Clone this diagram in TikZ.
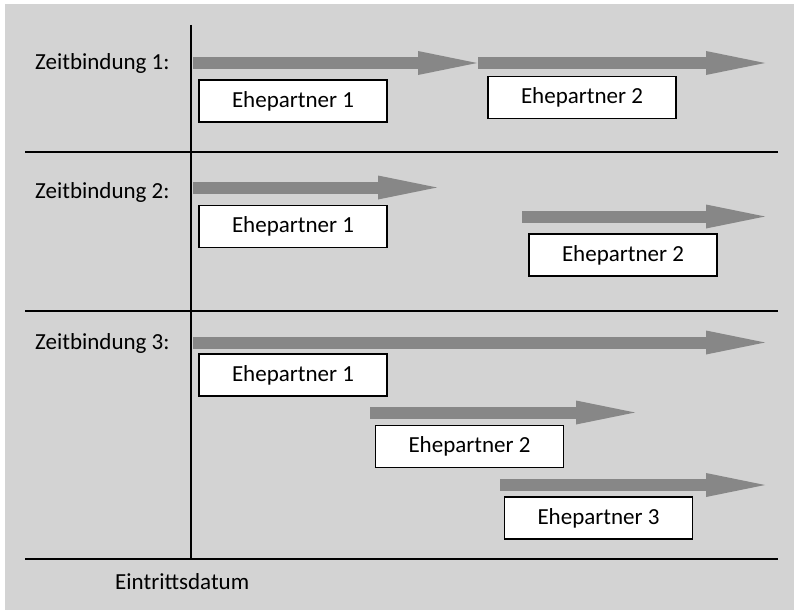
\documentclass[tikz,border=0pt]{standalone}
\usepackage{fontspec}
\setmainfont{Carlito}
\usepackage{tikz}
\usetikzlibrary{arrows.meta}
\usetikzlibrary{positioning}
\definecolor{bggray}{HTML}{D3D3D3}
\definecolor{arrowgray}{HTML}{878787}
\tikzset{%
  timearrow/.style={-{Triangle[length=59pt, width=24pt, line width=0pt]}, line width=12pt, draw=arrowgray},
  partnerbox/.style={draw=black, line width=1.3pt, fill=white, minimum width=188pt, minimum height=42pt, inner sep=0pt, font=\fontsize{23}{27}\selectfont},
  rowlabel/.style={anchor=base west, inner sep=0pt, font=\fontsize{23}{27}\selectfont},
  axisline/.style={line width=2.5pt, draw=black}
}

\begin{document}
\begin{tikzpicture}[x=1pt, y=-1pt]
  \useasboundingbox (0,0) rectangle (794,610);
  \fill[bggray] (5,4) rectangle (794,610);

  % axis and row separators
  \coordinate (axtop) at (191,25);
  \coordinate (axbot) at (191,559);
  \coordinate (s1l) at (25,152);
  \coordinate (s1r) at (778,152);
  \coordinate (s2l) at (25,311);
  \coordinate (s2r) at (778,311);
  \coordinate (s3l) at (25,559);
  \coordinate (s3r) at (778,559);
  \draw [axisline] (s1l) -- (s1r);
  \draw [axisline] (s2l) -- (s2r);
  \draw [axisline] (s3l) -- (s3r);
  \draw [axisline] (axtop) -- (axbot);

  % row labels
  \node[rowlabel] (lbl1) at (35,70) {Zeitbindung 1:};
  \node[rowlabel] (lbl2) at (35,198) {Zeitbindung 2:};
  \node[rowlabel] (lbl3) at (35,349) {Zeitbindung 3:};
  \node[rowlabel] (datum) at (115,589) {Eintrittsdatum};

  % Zeitbindung 1
  \coordinate (r1as) at (193,63);
  \coordinate (r1ae) at (477,63);
  \coordinate (r1bs) at (478,63);
  \coordinate (r1be) at (765,63);
  \draw [timearrow] (r1as) -- (r1ae);
  \draw [timearrow] (r1bs) -- (r1be);
  \node[partnerbox] (r1p1) at (293,101) {Ehepartner 1};
  \node[partnerbox] (r1p2) at (582,97.5) {Ehepartner 2};

  % Zeitbindung 2
  \coordinate (r2as) at (193,187.5);
  \coordinate (r2ae) at (437,187.5);
  \coordinate (r2bs) at (522,216.5);
  \coordinate (r2be) at (765,216.5);
  \draw [timearrow] (r2as) -- (r2ae);
  \draw [timearrow] (r2bs) -- (r2be);
  \node[partnerbox] (r2p1) at (293,226.5) {Ehepartner 1};
  \node[partnerbox] (r2p2) at (623,255) {Ehepartner 2};

  % Zeitbindung 3
  \coordinate (r3as) at (193,342.5);
  \coordinate (r3ae) at (765,342.5);
  \coordinate (r3bs) at (370,412.5);
  \coordinate (r3be) at (635,412.5);
  \coordinate (r3cs) at (500,485);
  \coordinate (r3ce) at (765,485);
  \draw [timearrow] (r3as) -- (r3ae);
  \draw [timearrow] (r3bs) -- (r3be);
  \draw [timearrow] (r3cs) -- (r3ce);
  \node[partnerbox] (r3p1) at (293,375) {Ehepartner 1};
  \node[partnerbox] (r3p2) at (469.5,446.5) {Ehepartner 2};
  \node[partnerbox] (r3p3) at (598.5,518) {Ehepartner 3};
\end{tikzpicture}
\end{document}
